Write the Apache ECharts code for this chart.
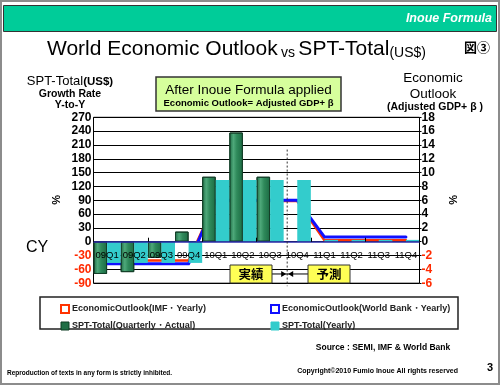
<!DOCTYPE html>
<html><head><meta charset="utf-8">
<script src="https://cdn.jsdelivr.net/npm/echarts@6/dist/echarts.min.js"></script>
<style>html,body{margin:0;padding:0;background:#fff}#c{width:500px;height:385px}</style>
</head><body><div id="c"></div>
<script>
// ---- data ----
const categories = ['09Q1','09Q2','09Q3','09Q4','10Q1','10Q2','10Q3','10Q4','11Q1','11Q2','11Q3','11Q4'];
const imfYearly  = [-2.7,-2.7,-2.7,-2.7, 5.9, 5.9, 5.9, 5.9, 0.2, 0.2, 0.2, 0.2];
const wbYearly   = [-3.2,-3.2,-3.2,-3.2, 6.0, 6.0, 6.0, 6.0, 0.7, 0.7, 0.7, 0.7];
const sptQuarterly = [-70,-66,-35,22,141,237,141,null,null,null,null,null];
const sptYearly    = [-46,-46,-46,-46,134,134,134,134,4,4,4,4];
const leftAxisTicks  = [-90,-60,-30,0,30,60,90,120,150,180,210,240,270];
const rightAxisTicks = [-6,-4,-2,0,2,4,6,8,10,12,14,16,18];
const seriesNames = ['EconomicOutlook(IMF・Yearly)','EconomicOutlook(World Bank・Yearly)','SPT-Total(Quarterly・Actual)','SPT-Total(Yearly)'];

const FF = '"Liberation Sans", Arial, sans-serif';
const CJK = '"Noto Sans CJK JP", sans-serif';
const chart = echarts.init(document.getElementById('c'), null, {renderer:'canvas'});

const negRed = v => (Number(v) < 0 ? '#ff2a00' : '#000');
const greenGrad = new echarts.graphic.LinearGradient(0,0,1,0,[
  {offset:0,color:'#1c6a43'},{offset:0.3,color:'#4ea87a'},{offset:0.55,color:'#2f8a5b'},{offset:1,color:'#1c6a43'}]);

const gridTop = 117.3, gridBottom = 101.8;
const gridH = 385 - gridTop - gridBottom;
const lMin = leftAxisTicks[0], lMax = leftAxisTicks[leftAxisTicks.length-1];
// distance from bottom edge of plot up to the zero line (derived from the axis range)
const zeroRise = gridH * (0 - lMin) / (lMax - lMin);

chart.setOption({
  animation:false,
  grid:{left:93.5,right:80.5,top:gridTop,bottom:gridBottom,show:true,borderColor:'#000',borderWidth:1,backgroundColor:'#fff'},
  xAxis:[
    {type:'category',data:categories,z:5,
     axisLine:{show:false},axisTick:{show:false},
     axisLabel:{fontFamily:FF,fontSize:9.5,color:'#000',margin:-zeroRise+9,interval:0}},
    {type:'category',data:categories,position:'top',offset:-(gridH-zeroRise),z:5,
     axisLine:{show:false},axisTick:{show:true,inside:false,length:4,lineStyle:{color:'#000'}},
     axisLabel:{show:false},splitLine:{show:false}}
  ],
  yAxis:[
    {type:'value',min:lMin,max:lMax,interval:leftAxisTicks[1]-leftAxisTicks[0],
     axisLine:{show:false},axisTick:{show:false},
     axisLabel:{fontFamily:FF,fontSize:12,fontWeight:'bold',margin:2,color:negRed},
     splitLine:{lineStyle:{color:'#000',width:1}}},
    {type:'value',min:rightAxisTicks[0],max:rightAxisTicks[rightAxisTicks.length-1],interval:rightAxisTicks[1]-rightAxisTicks[0],
     position:'right',axisLine:{show:false},axisTick:{show:true,length:2,lineStyle:{color:'#000'}},
     axisLabel:{fontFamily:FF,fontSize:12,fontWeight:'bold',margin:2,color:negRed},
     splitLine:{show:false}}
  ],
  legend:[
    {left:55,top:298,orient:'vertical',itemGap:5,itemWidth:8,itemHeight:8,
     textStyle:{fontFamily:FF,fontSize:9,fontWeight:'bold',color:'#222',lineHeight:12,padding:[0,0,0,-2]},
     data:[{name:seriesNames[0],icon:'rect',itemStyle:{color:'#fff',borderColor:'#ff3300',borderWidth:2}},
           {name:seriesNames[2],icon:'rect',itemStyle:{color:'#1f6e45',borderColor:'#0d3d22',borderWidth:1}}]},
    {left:265,top:298,orient:'vertical',itemGap:5,itemWidth:8,itemHeight:8,
     textStyle:{fontFamily:FF,fontSize:9,fontWeight:'bold',color:'#222',lineHeight:12,padding:[0,0,0,-2]},
     data:[{name:seriesNames[1],icon:'rect',itemStyle:{color:'#fff',borderColor:'#1010ff',borderWidth:2}},
           {name:seriesNames[3],icon:'rect',itemStyle:{color:'#33cccc',borderColor:'#33cccc',borderWidth:1}}]}
  ],
  series:[
    {name:seriesNames[0],type:'line',yAxisIndex:1,data:imfYearly,symbol:'none',z:1,
     lineStyle:{color:'#ff3300',width:2.5,cap:'round',join:'round'},itemStyle:{color:'#ff3300'}},
    {name:seriesNames[1],type:'line',yAxisIndex:1,data:wbYearly,symbol:'none',z:1,
     lineStyle:{color:'#1010ff',width:3,cap:'round',join:'round'},itemStyle:{color:'#1010ff'}},
    {name:seriesNames[2],type:'bar',yAxisIndex:0,data:sptQuarterly,z:2,barGap:'0%',barCategoryGap:'0%',
     itemStyle:{color:greenGrad,borderColor:'#143f29',borderWidth:1}},
    {name:seriesNames[3],type:'bar',yAxisIndex:0,data:sptYearly,z:2,barGap:'0%',barCategoryGap:'0%',
     itemStyle:{color:'#33cccc'},
     markLine:{silent:true,symbol:'none',z:3,label:{show:false},
       lineStyle:{color:'#2a2aa8',width:1.5,type:'solid'},data:[{yAxis:0}]}}
  ]
});

// annotation positions derived from the axes
const c3 = chart.convertToPixel({xAxisIndex:0}, '10Q3');
const c4 = chart.convertToPixel({xAxisIndex:0}, '10Q4');
const dashX = (c3 + c4)/2 + 0.13*(c4 - c3);
const yTop = chart.convertToPixel({yAxisIndex:0}, 200);
const yBot = chart.convertToPixel({yAxisIndex:0}, -90);
const yArrow = chart.convertToPixel({yAxisIndex:0}, -70);

chart.setOption({graphic:[
  {type:'rect',shape:{x:1,y:1,width:498,height:383},style:{fill:'none',stroke:'#8c8c8c',lineWidth:2},z:100,silent:true},
  {type:'rect',shape:{x:3.5,y:5.5,width:493,height:26},style:{fill:'#00cc99',stroke:'#333',lineWidth:1}},
  {type:'text',x:492,y:19,style:{text:'Inoue Formula',fill:'#fff',font:'italic bold 12.5px '+FF,align:'right',verticalAlign:'middle'}},
  {type:'text',x:47,y:48,style:{text:'{a|World Economic Outlook} {b|vs} {a|SPT-Total}{c|(US$)}',verticalAlign:'middle',align:'left',
    rich:{a:{font:'21px '+FF,fill:'#000',lineHeight:24,verticalAlign:'bottom'},
          b:{font:'14px '+FF,fill:'#000',lineHeight:24,verticalAlign:'bottom'},
          c:{font:'14px '+FF,fill:'#000',lineHeight:24,verticalAlign:'bottom'}}}},
  {type:'text',x:477,y:47,style:{text:'図③',font:'bold 13px '+CJK,fill:'#000',align:'center',verticalAlign:'middle'}},
  {type:'text',x:70,y:80,style:{text:'{a|SPT-Total}{b|(US$)}',align:'center',verticalAlign:'middle',
    rich:{a:{font:'13px '+FF,fill:'#000',lineHeight:16,verticalAlign:'bottom'},b:{font:'bold 11.5px '+FF,fill:'#000',lineHeight:16,verticalAlign:'bottom'}}}},
  {type:'text',x:70,y:94,style:{text:'Growth Rate',font:'bold 10.5px '+FF,fill:'#000',align:'center',verticalAlign:'middle'}},
  {type:'text',x:70,y:105.5,style:{text:'Y-to-Y',font:'bold 10.5px '+FF,fill:'#000',align:'center',verticalAlign:'middle'}},
  {type:'rect',shape:{x:156,y:77,width:185,height:34},style:{fill:'#d6ff9c',stroke:'#333',lineWidth:1.5}},
  {type:'text',x:248.5,y:90,style:{text:'After Inoue Formula applied',font:'13.5px '+FF,fill:'#000',align:'center',verticalAlign:'middle'}},
  {type:'text',x:248.5,y:103.5,style:{text:'Economic Outlook= Adjusted GDP+ β',font:'bold 9.5px '+FF,fill:'#000',align:'center',verticalAlign:'middle'}},
  {type:'text',x:433,y:78,style:{text:'Economic',font:'13.5px '+FF,fill:'#000',align:'center',verticalAlign:'middle'}},
  {type:'text',x:433,y:94,style:{text:'Outlook',font:'13.5px '+FF,fill:'#000',align:'center',verticalAlign:'middle'}},
  {type:'text',x:435,y:107,style:{text:'(Adjusted GDP+ β )',font:'bold 10.5px '+FF,fill:'#000',align:'center',verticalAlign:'middle'}},
  {type:'text',x:55,y:200,rotation:-Math.PI/2,style:{text:'%',font:'bold 11px '+FF,fill:'#000',align:'center',verticalAlign:'middle'}},
  {type:'text',x:452,y:200,rotation:-Math.PI/2,style:{text:'%',font:'bold 11px '+FF,fill:'#000',align:'center',verticalAlign:'middle'}},
  {type:'text',x:26,y:248,style:{text:'CY',font:'16px '+FF,fill:'#000',verticalAlign:'middle'}},
  {type:'line',shape:{x1:dashX,y1:yTop,x2:dashX,y2:yBot+3},style:{stroke:'#333',lineWidth:1,lineDash:[2,2]},z:10},
  {type:'line',shape:{x1:272,y1:yArrow,x2:308,y2:yArrow},style:{stroke:'#000',lineWidth:1},z:10},
  {type:'polygon',shape:{points:[[dashX-1,yArrow],[dashX-6,yArrow-3],[dashX-6,yArrow+3]]},style:{fill:'#000'},z:10},
  {type:'polygon',shape:{points:[[dashX+1,yArrow],[dashX+6,yArrow-3],[dashX+6,yArrow+3]]},style:{fill:'#000'},z:10},
  {type:'rect',shape:{x:230,y:265,width:42,height:18},style:{fill:'#ffff55',stroke:'#333',lineWidth:1},z:10},
  {type:'text',x:251,y:274,style:{text:'実績',font:'bold 12.5px '+CJK,fill:'#000',align:'center',verticalAlign:'middle'},z:11},
  {type:'rect',shape:{x:308,y:265,width:42,height:18},style:{fill:'#ffff55',stroke:'#333',lineWidth:1},z:10},
  {type:'text',x:329,y:274,style:{text:'予測',font:'bold 12.5px '+CJK,fill:'#000',align:'center',verticalAlign:'middle'},z:11},
  {type:'rect',shape:{x:40,y:297,width:418,height:32},style:{fill:'#fff',stroke:'#222',lineWidth:1.5},z:-1},
  {type:'text',x:383,y:348,style:{text:'Source : SEMI, IMF & World Bank',font:'bold 8.5px '+FF,fill:'#000',align:'center',verticalAlign:'middle'}},
  {type:'text',x:7,y:373,style:{text:'Reproduction of texts in any form is strictly inhibited.',font:'bold 6.5px '+FF,fill:'#000',verticalAlign:'middle'}},
  {type:'text',x:458,y:371,style:{text:'Copyright©2010 Fumio Inoue All rights reserved',font:'bold 7px '+FF,fill:'#000',align:'right',verticalAlign:'middle'}},
  {type:'text',x:490,y:368,style:{text:'3',font:'bold 11px '+FF,fill:'#000',align:'center',verticalAlign:'middle'}}
]});
</script></body></html>
